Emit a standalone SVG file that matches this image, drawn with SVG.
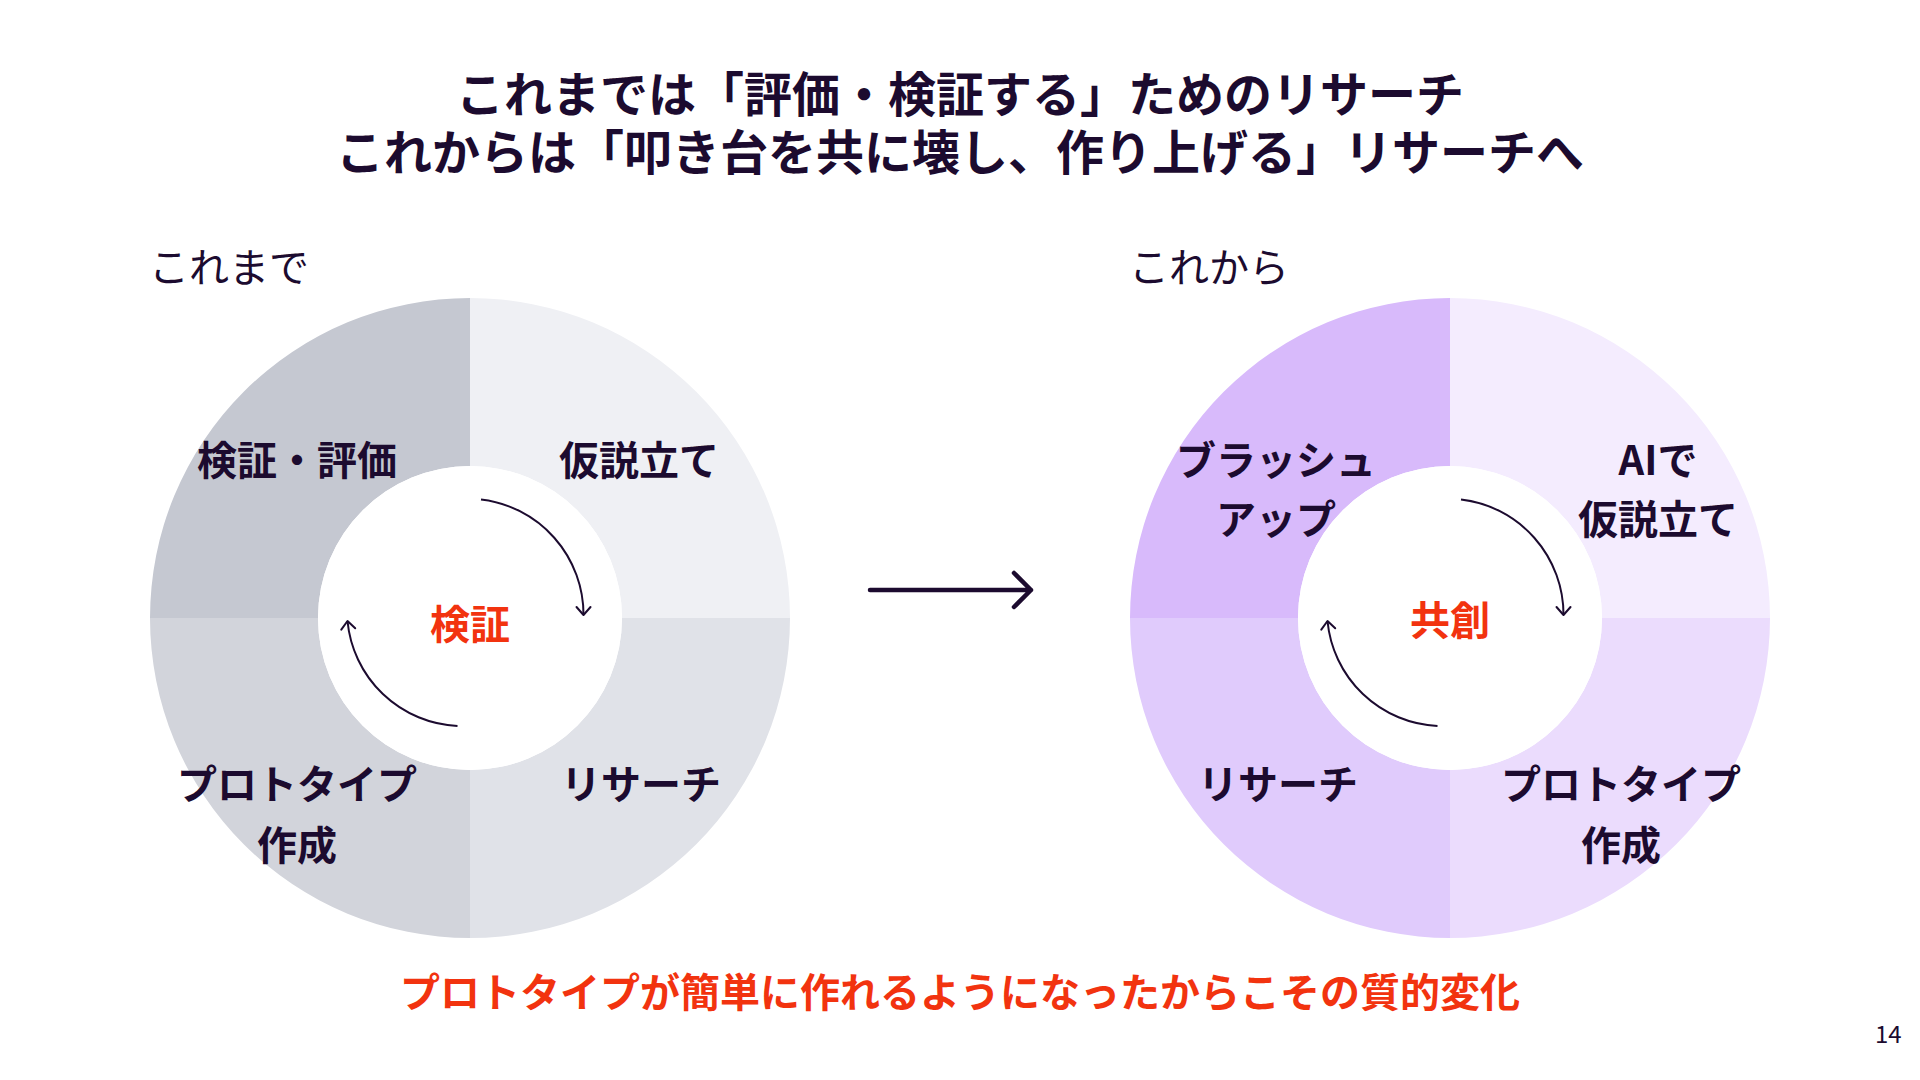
<svg xmlns="http://www.w3.org/2000/svg" width="1920" height="1080" viewBox="0 0 1920 1080">
<style>
text { font-family: "Noto Sans CJK JP", "Noto Sans", sans-serif; fill: #1c0b2f; }
.title { font-size: 48px; font-weight: 700; text-anchor: middle; }
.head { font-size: 40px; font-weight: 400; }
.lbl { font-size: 40px; font-weight: 700; text-anchor: middle; }
.core { font-size: 40px; font-weight: 700; text-anchor: middle; fill: #f2330f; }
.note { font-size: 40px; font-weight: 700; text-anchor: middle; fill: #f2330f; }
.pg { font-size: 24px; font-weight: 400; }
.cyc { fill: none; stroke: #1c0b2f; stroke-width: 2; marker-end: url(#open); }
.big { fill: none; stroke: #1c0b2f; stroke-width: 4.5; stroke-linecap: round; stroke-linejoin: round; }
</style>
<defs>
<marker id="open" markerUnits="userSpaceOnUse" viewBox="-12 -10 14 20" refX="0" refY="0" markerWidth="14" markerHeight="20" orient="auto">
<path d="M-8,-7 L0,0 L-8,7" fill="none" stroke="#1c0b2f" stroke-width="2" stroke-linecap="round" stroke-linejoin="round"/>
</marker>
</defs>
<rect width="1920" height="1080" fill="#ffffff"/>

<g id="title">
<text class="title" x="960" y="112">これまでは「評価・検証する」ためのリサーチ</text>
<text class="title" x="960" y="170">これからは「叩き台を共に壊し、作り上げる」リサーチへ</text>
</g>

<g id="heading-before"><text class="head" x="149" y="282">これまで</text></g>
<g id="heading-after"><text class="head" x="1129" y="282">これから</text></g>

<!-- left cycle -->
<g id="before-verify-evaluate">
<path d="M150,618 A320,320 0 0 1 470,298 L470,466 A152,152 0 0 0 318,618 Z" fill="#c5c8d1"/>
<text class="lbl" x="297" y="475">検証・評価</text>
</g>
<g id="before-hypothesis">
<path d="M470,298 A320,320 0 0 1 790,618 L622,618 A152,152 0 0 0 470,466 Z" fill="#eff0f4"/>
<text class="lbl" x="639" y="475">仮説立て</text>
</g>
<g id="before-research">
<path d="M790,618 A320,320 0 0 1 470,938 L470,770 A152,152 0 0 0 622,618 Z" fill="#e0e2e8"/>
<text class="lbl" x="641" y="799">リサーチ</text>
</g>
<g id="before-prototype">
<path d="M470,938 A320,320 0 0 1 150,618 L318,618 A152,152 0 0 0 470,770 Z" fill="#d2d4db"/>
<text class="lbl" x="297" y="799">プロトタイプ</text>
<text class="lbl" x="297" y="860">作成</text>
</g>
<g id="before-core">
<circle cx="470" cy="618" r="152" fill="#ffffff"/>
<text class="core" x="470" y="639">検証</text>
</g>

<!-- right cycle -->
<g id="after-brushup">
<path d="M1130,618 A320,320 0 0 1 1450,298 L1450,466 A152,152 0 0 0 1298,618 Z" fill="#d8bafb"/>
</g>
<g id="after-hypothesis">
<path d="M1450,298 A320,320 0 0 1 1770,618 L1602,618 A152,152 0 0 0 1450,466 Z" fill="#f4ecfe"/>
<text class="lbl" x="1658" y="475">AIで</text>
<text class="lbl" x="1658" y="534">仮説立て</text>
</g>
<g id="after-prototype">
<path d="M1770,618 A320,320 0 0 1 1450,938 L1450,770 A152,152 0 0 0 1602,618 Z" fill="#ebdcfd"/>
<text class="lbl" x="1621" y="799">プロトタイプ</text>
<text class="lbl" x="1621" y="860">作成</text>
</g>
<g id="after-research">
<path d="M1450,938 A320,320 0 0 1 1130,618 L1298,618 A152,152 0 0 0 1450,770 Z" fill="#e0cbfc"/>
<text class="lbl" x="1278" y="799">リサーチ</text>
</g>
<g id="after-core">
<circle cx="1450" cy="618" r="152" fill="#ffffff"/>
<text class="core" x="1450" y="635">共創</text>
</g>
<g id="after-brushup-label">
<text class="lbl" x="1276" y="475">ブラッシュ</text>
<text class="lbl" x="1276" y="534">アップ</text>
</g>

<g id="connectors">
<path class="cyc" d="M481,499.5 A116,116 0 0 1 583.5,615"/>
<path class="cyc" d="M457.5,726 A116,116 0 0 1 347.5,621"/>
<path class="cyc" d="M1461,499.5 A116,116 0 0 1 1563.5,615"/>
<path class="cyc" d="M1437.5,726 A116,116 0 0 1 1327.5,621"/>
<path class="big" d="M870,590 L1031,590 M1014,573 L1031,590 L1014,607"/>
</g>

<g id="conclusion">
<text class="note" x="960" y="1007">プロトタイプが簡単に作れるようになったからこその質的変化</text>
</g>
<g id="page-number"><text class="pg" x="1875" y="1043">14</text></g>
</svg>
